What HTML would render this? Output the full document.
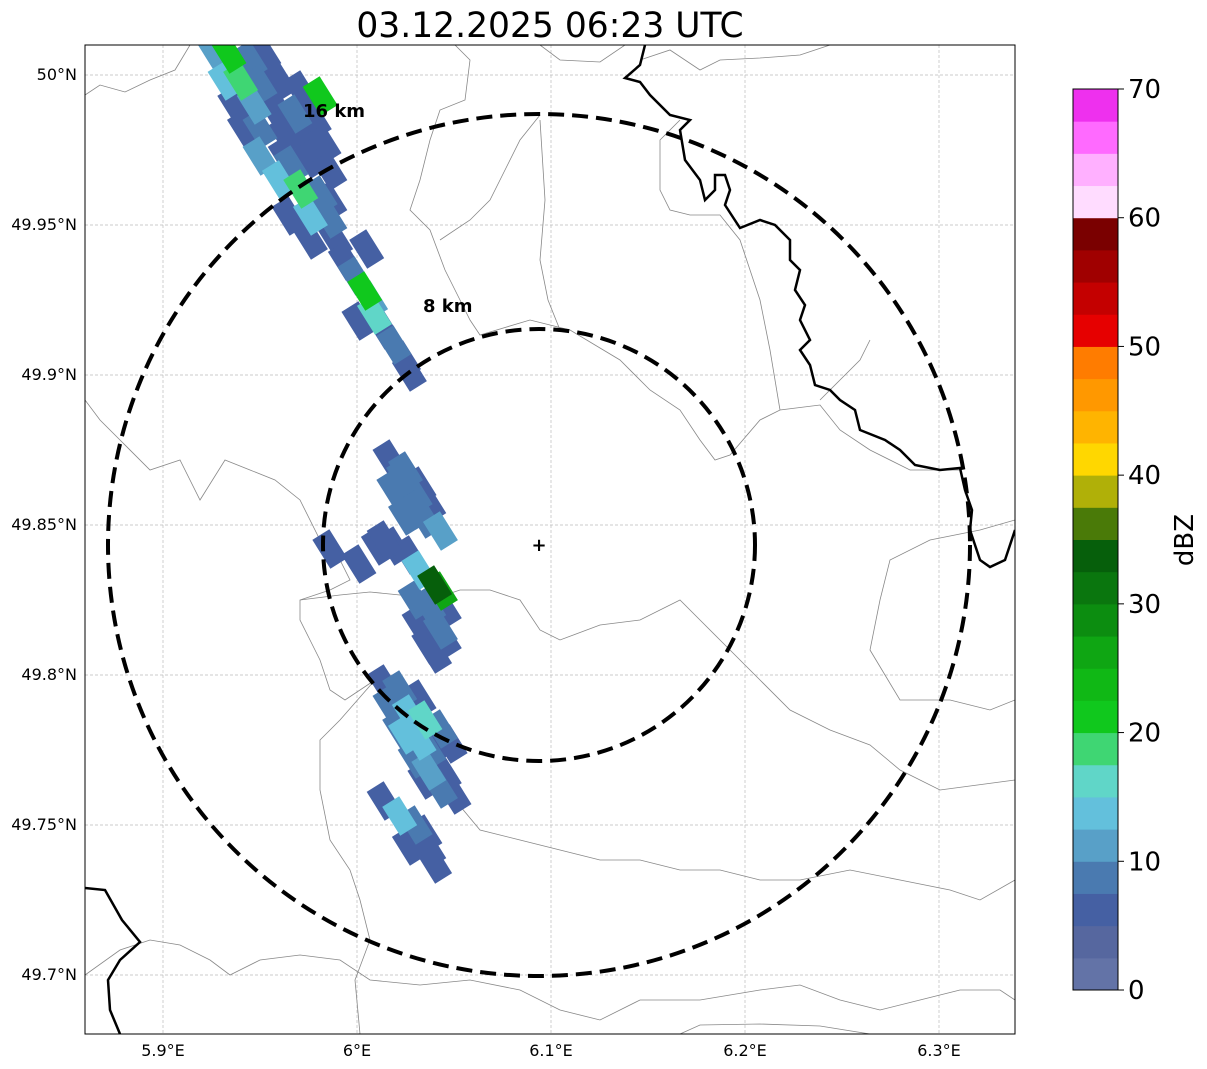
<!DOCTYPE html>
<html><head><meta charset="utf-8"><style>
body{margin:0;background:#fff;font-family:"DejaVu Sans","Liberation Sans",sans-serif}
svg{display:block}
</style></head><body>
<svg id="chart" width="1207" height="1069" viewBox="0 0 1207 1069" xmlns="http://www.w3.org/2000/svg" font-family="DejaVu Sans, Liberation Sans, sans-serif">
<text x="550" y="37" font-size="34.5" text-anchor="middle" fill="#000">03.12.2025 06:23 UTC</text>
<defs><clipPath id="mapclip"><rect x="85" y="45" width="930" height="989"/></clipPath></defs>
<g id="grid"></g>
<g clip-path="url(#mapclip)">
<g fill="none" stroke="#888" stroke-width="0.8">
<polyline points="85,95 100,85 125,92 150,80 175,70 190,45"/>
<polyline points="540,45 560,60 600,62 625,45"/>
<polyline points="640,60 670,50 700,70 720,60 760,58 800,55 830,45"/>
<polyline points="85,400 100,420 120,440 150,470 180,460 200,500 225,460 250,470 275,480 300,500 320,540 340,560 350,580 330,590 300,600 300,620 310,640 320,660 330,690 345,700 360,690 375,680"/>
<polyline points="300,600 340,595 370,592 400,595 430,600 460,590 490,590 520,600 540,630 560,640 600,625 640,620 680,600 700,620 720,640 740,660 760,680 790,710 830,730 870,745 900,770 940,790 1015,780"/>
<polyline points="455,45 470,60 465,100 440,110 430,140 420,180 410,210 430,230 445,270 460,300 470,320 480,335 530,320 570,330 620,360 650,390 680,410 700,440 715,460 730,455 760,420 780,410 820,405 840,430 870,450 910,470 960,470"/>
<polyline points="540,115 520,140 505,170 490,200 470,220 440,240"/>
<polyline points="540,120 545,200 540,260 548,300 560,330"/>
<polyline points="1015,520 980,530 930,540 890,560 880,600 870,650 900,700 950,700 990,710 1015,700"/>
<polyline points="375,680 340,720 320,740 320,790 330,840 350,870 360,900 370,940 355,980 360,1034"/>
<polyline points="85,975 120,950 150,940 180,945 210,960 230,975 260,960 300,955 340,960 370,980 420,985 470,980 520,990 560,1010 600,1020 640,1000 700,1000 760,990 800,985 840,1000 880,1010 920,1000 960,990 1000,990 1015,1000"/>
<polyline points="680,1034 700,1025 760,1024 820,1026 870,1034"/>
<polyline points="820,400 840,380 860,360 870,340"/>
<polyline points="780,410 770,350 760,300 740,240 720,215 690,215 670,210 660,190 660,140 680,120"/>
<polyline points="455,800 480,830 520,840 560,850 600,860 640,860 680,870 720,870 760,880 800,880 850,870 900,880 950,890 980,900 1015,880"/>
</g>
<g fill="none" stroke="#000" stroke-width="2.5">
<polyline points="645,45 640,65 625,78 640,82 650,95 670,115 690,120 680,130 685,160 700,180 705,200 715,190 715,175 725,175 730,190 725,205 740,228 760,220 775,225 790,240 790,260 800,270 795,290 805,305 800,320 810,340 800,350 810,365 815,385 830,390 840,400 855,410 860,430 885,440 900,450 915,465 940,470 960,468 965,490 972,510 970,530 980,560 990,567 1005,560 1015,530"/>
<polyline points="85,888 105,890 122,920 140,942 120,960 108,980 110,1010 120,1034"/>
</g>
<g id="echoes"></g>
</g>
<circle cx="539" cy="545" r="431" fill="none" stroke="#000" stroke-width="4" stroke-dasharray="16,8"/>
<circle cx="539" cy="545" r="216" fill="none" stroke="#000" stroke-width="4" stroke-dasharray="16,8"/>
<text x="303" y="117" font-size="18" font-weight="bold">16 km</text>
<text x="423" y="312" font-size="18" font-weight="bold">8 km</text>
<text x="539" y="551" font-size="18" font-weight="bold" text-anchor="middle">+</text>
<rect x="85" y="45" width="930" height="989" fill="none" stroke="#000" stroke-width="1"/>
<g id="axes" font-size="16"></g>
<g id="cbar"></g>
<text transform="translate(1193,540) rotate(-90)" font-size="26" text-anchor="middle">dBZ</text>
</svg>
<script>
const lonTicks=[5.9,6.0,6.1,6.2,6.3];
const lonLabels=["5.9°E","6°E","6.1°E","6.2°E","6.3°E"];
const latTicks=[50.0,49.95,49.9,49.85,49.8,49.75,49.7];
const latLabels=["50°N","49.95°N","49.9°N","49.85°N","49.8°N","49.75°N","49.7°N"];
const cbarTicks=[0,10,20,30,40,50,60,70];
const cbarColors=["#6373a7","#56679f","#4560a3","#4a7ab0","#58a0c8","#63c0dc","#60d6c8","#3fd673","#10c81d","#10b815","#0fa613","#0c8d10","#0a760e","#065f0b","#4a7a08","#b0b008","#ffd700","#ffb400","#ff9800","#ff7c00","#e60000","#c40000","#a00000","#7a0000","#ffdcff","#ffb0ff","#ff6aff","#ee30ee"];
const cellLon=[5.927,5.934,5.945,5.952,5.932,5.940,5.950,5.960,5.971,5.981,5.937,5.947,5.958,5.968,5.978,5.942,5.950,5.963,5.973,5.983,5.950,5.963,5.976,5.986,5.960,5.971,5.981,5.986,5.965,5.976,5.986,5.976,5.989,5.994,5.999,6.004,6.007,6.009,6.001,6.014,6.019,6.024,6.027,6.005,5.940,5.955,5.966,
6.017,6.025,6.032,6.019,6.030,6.037,6.025,6.035,6.043,6.019,6.027,6.032,6.040,6.043,6.030,6.037,6.045,6.032,6.043,6.037,6.045,6.040,5.986,6.001,6.011,6.014,6.024,6.030,
6.014,6.022,6.032,6.017,6.027,6.035,6.043,6.022,6.032,6.040,6.048,6.030,6.037,6.045,6.050,6.043,6.035,6.014,6.022,6.030,6.035,6.027,6.037,6.040,6.025,6.037];
const cellLat=[50.007,50.007,50.005,50.007,49.998,49.998,49.997,49.998,49.995,49.993,49.990,49.990,49.988,49.987,49.985,49.982,49.982,49.980,49.978,49.977,49.973,49.973,49.972,49.968,49.965,49.962,49.960,49.958,49.953,49.953,49.952,49.945,49.945,49.938,49.933,49.928,49.925,49.920,49.918,49.915,49.910,49.905,49.901,49.942,50.002,49.993,49.970,
49.872,49.868,49.863,49.862,49.860,49.857,49.853,49.852,49.848,49.843,49.840,49.835,49.830,49.828,49.825,49.823,49.822,49.817,49.815,49.810,49.812,49.807,49.842,49.837,49.843,49.845,49.866,49.855,
49.797,49.795,49.792,49.790,49.787,49.785,49.782,49.782,49.778,49.777,49.777,49.772,49.768,49.767,49.760,49.762,49.765,49.758,49.753,49.750,49.747,49.743,49.742,49.737,49.780,49.775];
const cellDbz=[10,22,8,5,13,18,8,5,5,20,5,10,5,8,5,5,8,5,5,5,12,5,5,5,13,18,8,5,5,13,8,5,5,5,8,20,10,15,5,5,8,5,5,5,8,5,8,
5,8,5,8,8,5,8,8,12,5,5,13,33,27,8,8,5,5,8,5,5,5,5,5,5,5,8,8,
5,8,5,8,13,15,8,8,13,5,5,8,10,5,5,8,5,5,13,8,5,5,5,5,13,8];
const NS="http://www.w3.org/2000/svg";
function xS(lon){return 357+(lon-6.0)*1940;}
function yS(lat){return 375-(lat-49.9)*3000;}
function cS(v){return 990-v*(901/70);}
function mk(tag,attrs,parent){const e=document.createElementNS(NS,tag);for(const k in attrs)e.setAttribute(k,attrs[k]);parent.appendChild(e);return e;}
const grid=document.getElementById('grid'),axes=document.getElementById('axes');
lonTicks.forEach((t,i)=>{const x=xS(t);
 const l=mk('line',{x1:x,x2:x,y1:45,y2:1034,stroke:'#bbb','stroke-width':0.7,'stroke-dasharray':'3,2'},grid);
 
 const tx=mk('text',{x:x,y:1056,'text-anchor':'middle'},axes);tx.textContent=lonLabels[i];
 });
latTicks.forEach((t,i)=>{const y=yS(t);
 const l=mk('line',{x1:85,x2:1015,y1:y,y2:y,stroke:'#bbb','stroke-width':0.7,'stroke-dasharray':'3,2'},grid);
 
 const tx=mk('text',{x:77,y:y+5,'text-anchor':'end'},axes);tx.textContent=latLabels[i];
 });
const echoes=document.getElementById('echoes');
const order=cellDbz.map((v,i)=>i).sort((a,b)=>cellDbz[a]-cellDbz[b]);
order.forEach(i=>{
 const x=xS(cellLon[i]), y=yS(cellLat[i]);
 const idx=Math.min(27,Math.max(0,Math.floor(cellDbz[i]/2.5)));
 const r=mk('rect',{x:-17,y:-10,width:34,height:20,fill:cbarColors[idx],transform:`translate(${x},${y}) rotate(58)`},echoes);
 
 
});
const cb=document.getElementById('cbar');
cbarColors.forEach((c,i)=>{const y1=cS((i+1)*2.5),y0=cS(i*2.5);
 const r=mk('rect',{x:1073,y:y1,width:45,height:y0-y1+0.5,fill:c},cb);
 });
const fr=mk('rect',{x:1073,y:89,width:45,height:901,fill:'none',stroke:'#000','stroke-width':1},cb);

cbarTicks.forEach(t=>{const y=cS(t);
 const l=mk('line',{x1:1118,x2:1124,y1:y,y2:y,stroke:'#000'},cb);
 
 const tx=mk('text',{x:1128,y:y+9,'font-size':26},cb);tx.textContent=t;
 });
</script>
</body></html>
